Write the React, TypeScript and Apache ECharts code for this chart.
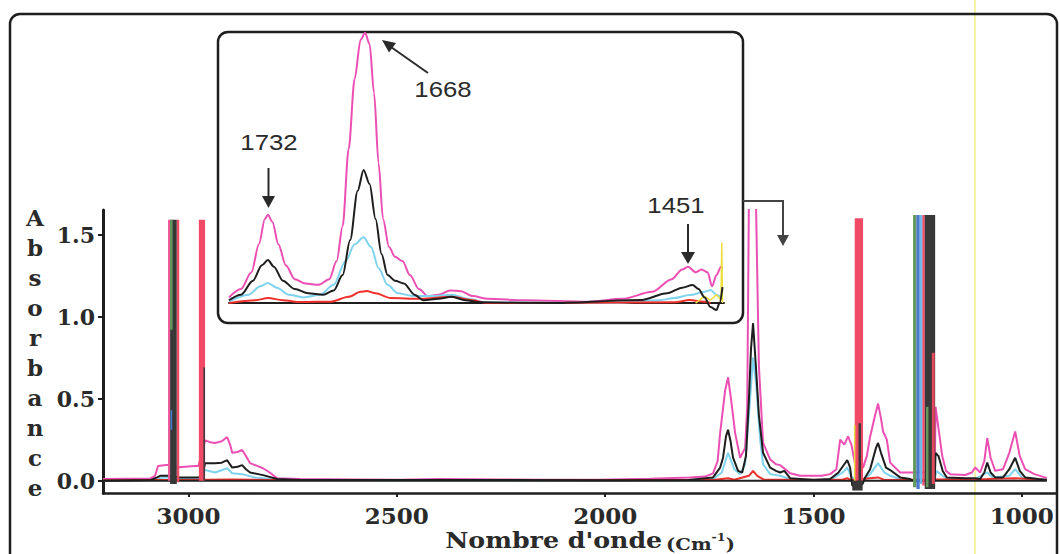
import React, { useEffect, useRef } from 'react';
import * as echarts from 'echarts';

// ---------- axis ticks ----------
const xTicks = [3000, 2500, 2000, 1500, 1000];
const yTicks = [0, 0.5, 1.0, 1.5];

// ---------- main spectra [wavenumber, absorbance] ----------
const pinkMain = [
  [3205, 0.01], [3150, 0.012], [3092, 0.012], [3080, 0.03], [3073, 0.09], [3054, 0.095], [3049, 0.095],
  [3030, 0.08], [3008, 0.085], [2984, 0.09], [2976, 0.09], [2960, 0.246], [2948, 0.235], [2936, 0.23],
  [2920, 0.24], [2907, 0.266], [2900, 0.22], [2895, 0.17], [2882, 0.175], [2871, 0.187], [2862, 0.15],
  [2852, 0.107], [2835, 0.09], [2821, 0.076], [2805, 0.05], [2787, 0.015], [2732, 0.01], [2600, 0.008],
  [2492, 0.006], [2400, 0.01], [2253, 0.008], [2150, 0.006], [2013, 0.006], [1893, 0.012], [1797, 0.02],
  [1760, 0.025], [1741, 0.045], [1730, 0.12], [1724, 0.29], [1712, 0.55], [1705, 0.63], [1698, 0.5],
  [1688, 0.29], [1676, 0.14], [1664, 0.2], [1659, 0.45], [1655, 1.7], [1647, 1.95], [1638, 1.7],
  [1631, 0.7], [1621, 0.23], [1604, 0.13], [1590, 0.1], [1580, 0.095], [1556, 0.045], [1532, 0.03],
  [1480, 0.03], [1460, 0.04], [1445, 0.07], [1436, 0.25], [1426, 0.22], [1417, 0.27], [1409, 0.22],
  [1400, 0.1], [1381, 0.08], [1372, 0.15], [1364, 0.27], [1352, 0.4], [1345, 0.47], [1338, 0.38],
  [1333, 0.3], [1324, 0.25], [1316, 0.11], [1292, 0.05], [1268, 0.05], [1261, 0.05], [1209, 0.05],
  [1207, 0.45], [1199, 0.3], [1191, 0.15], [1182, 0.06], [1172, 0.04], [1136, 0.035], [1120, 0.05],
  [1112, 0.08], [1100, 0.05], [1090, 0.12], [1083, 0.26], [1075, 0.14], [1064, 0.06], [1045, 0.07],
  [1030, 0.17], [1016, 0.3], [1005, 0.15], [992, 0.07], [970, 0.04], [945, 0.02], [940, 0.015],
];

const blackMain = [
  [3205, 0], [3090, 0.004], [3075, 0.02], [3068, 0.03], [3049, 0.03], [3023, 0.02], [2976, 0.02],
  [2966, 0.03], [2960, 0.107], [2936, 0.107], [2920, 0.11], [2907, 0.125], [2895, 0.08], [2882, 0.085],
  [2871, 0.095], [2862, 0.07], [2852, 0.05], [2821, 0.034], [2787, 0.01], [2732, 0.004], [2400, 0.004],
  [2000, 0.003], [1800, 0.005], [1741, 0.02], [1724, 0.08], [1717, 0.14], [1710, 0.27], [1705, 0.31],
  [1699, 0.24], [1693, 0.14], [1681, 0.06], [1671, 0.05], [1662, 0.15], [1655, 0.49], [1650, 0.8],
  [1645, 0.96], [1638, 0.69], [1631, 0.4], [1621, 0.17], [1604, 0.08], [1590, 0.06], [1580, 0.05],
  [1570, 0.06], [1556, 0.015], [1500, 0.005], [1460, 0.01], [1440, 0.05], [1426, 0.1], [1419, 0.125],
  [1412, 0.08], [1407, -0.03], [1382, -0.02], [1376, 0.02], [1364, 0.07], [1350, 0.2], [1345, 0.23],
  [1338, 0.17], [1326, 0.08], [1316, 0.065], [1292, 0.02], [1268, 0.01], [1261, 0.0], [1209, 0.0],
  [1207, 0.17], [1200, 0.15], [1190, 0.06], [1180, 0.02], [1136, 0.015], [1112, 0.015], [1100, 0.01],
  [1090, 0.05], [1083, 0.11], [1075, 0.05], [1064, 0.02], [1045, 0.02], [1030, 0.07], [1016, 0.14],
  [1005, 0.06], [992, 0.02], [960, 0.01], [940, 0.005],
];

const cyanMain = [
  [3205, 0], [3080, 0.005], [3060, 0.02], [3049, 0.02], [3023, 0.01], [2976, 0.01], [2960, 0.065],
  [2936, 0.05], [2907, 0.076], [2895, 0.045], [2871, 0.04], [2840, 0.02], [2821, 0.015], [2787, 0.005],
  [2500, 0.003], [1760, 0.003], [1741, 0.01], [1720, 0.05], [1705, 0.17], [1690, 0.07], [1676, 0.04],
  [1664, 0.1], [1655, 0.4], [1645, 0.75], [1638, 0.6], [1628, 0.25], [1621, 0.1], [1604, 0.04],
  [1580, 0.03], [1556, 0.01], [1460, 0.005], [1430, 0.05], [1419, 0.08], [1410, 0.03], [1400, 0],
  [1381, 0], [1364, 0.04], [1345, 0.107], [1330, 0.05], [1316, 0.03], [1292, 0.01], [1262, 0.005],
  [1209, 0.005], [1205, 0.06], [1190, 0.03], [1180, 0.01], [1112, 0.01], [1083, 0.05], [1070, 0.02],
  [1030, 0.03], [1016, 0.07], [1000, 0.02], [940, 0.005],
];

const redMain = [
  [3205, 0.003], [2960, 0.006], [2900, 0.008], [2800, 0.004], [1741, 0.004], [1705, 0.015], [1690, 0.006],
  [1655, 0.03], [1645, 0.06], [1635, 0.03], [1620, 0.008], [1430, 0.006], [1419, 0.015], [1410, 0.004],
  [1345, 0.02], [1330, 0.005], [1083, 0.01], [1016, 0.015], [940, 0.004],
];

const baselineMain = [[3205, 0], [940, 0]];

// ---------- saturated (off-scale) bands: [from, to, top, bottom] ----------
const satPink = [[3049, 3044, 1.59, 0.0]];
const satRed = [[3028, 3022, 1.59, -0.01], [2975, 2960, 1.59, 0.0], [1401, 1381, 1.6, 0.0], [1239, 1233, 1.62, -0.03]];
const satDark = [[3044, 3028, 1.59, -0.02], [2964, 2961, 0.69, 0.0], [1407, 1382, 0.0, -0.06], [1392, 1386, 0.35, -0.05], [1233, 1208, 1.62, -0.05]];
const satGreen = [[3044, 3038, 1.59, 0.92], [1261, 1253, 1.62, -0.04], [1230, 1224, 0.45, -0.04]];
const satBlue = [[3043, 3039, 0.43, 0.31], [1253, 1245, 1.62, -0.05]];
const satCyan = [[1245, 1239, 1.62, -0.02]];
const satRedInner = [[1216, 1209, 0.78, -0.02]];
const satYellow = [[1403, 1401.5, 0.34, 0.0]];

// ---------- inset spectra (1758-1427 cm-1) ----------
const pinkInset = [
  [1758, 0.04], [1750, 0.1], [1743, 0.22], [1738, 0.42], [1734, 0.6], [1732, 0.63], [1729, 0.58],
  [1725, 0.42], [1720, 0.27], [1714, 0.17], [1707, 0.14], [1698, 0.13], [1691, 0.17], [1686, 0.3],
  [1682, 0.55], [1678, 1.1], [1674, 1.6], [1670, 1.88], [1667, 1.93], [1664, 1.85], [1661, 1.5],
  [1658, 1.0], [1655, 0.6], [1651, 0.4], [1647, 0.33], [1642, 0.3], [1637, 0.2], [1631, 0.1],
  [1625, 0.05], [1618, 0.06], [1610, 0.09], [1603, 0.085], [1595, 0.05], [1585, 0.03], [1560, 0.02],
  [1517, 0.01], [1495, 0.03], [1475, 0.08], [1462, 0.17], [1455, 0.24], [1451, 0.26], [1446, 0.22],
  [1442, 0.24], [1438, 0.22], [1435, 0.12], [1432, 0.2], [1429, 0.26], [1428, 0.25],
];
const blackInset = [
  [1758, 0.02], [1750, 0.06], [1742, 0.16], [1736, 0.27], [1732, 0.307], [1728, 0.26], [1722, 0.16],
  [1714, 0.1], [1705, 0.07], [1695, 0.06], [1688, 0.09], [1682, 0.2], [1677, 0.45], [1672, 0.8],
  [1668, 0.95], [1664, 0.85], [1660, 0.6], [1656, 0.35], [1652, 0.2], [1647, 0.16], [1641, 0.14],
  [1634, 0.06], [1628, 0.02], [1618, 0.03], [1609, 0.045], [1600, 0.02], [1590, 0.005], [1540, 0.0],
  [1483, 0.021], [1465, 0.07], [1455, 0.11], [1448, 0.129], [1444, 0.1], [1440, 0.04], [1436, -0.029],
  [1432, -0.05], [1430, 0.0], [1428, 0.114],
];
const cyanInset = [
  [1758, 0.01], [1745, 0.06], [1737, 0.12], [1732, 0.143], [1726, 0.11], [1718, 0.06], [1708, 0.04],
  [1697, 0.06], [1688, 0.13], [1680, 0.3], [1674, 0.42], [1668, 0.47], [1663, 0.4], [1658, 0.25],
  [1652, 0.13], [1645, 0.07], [1635, 0.05], [1620, 0.05], [1609, 0.06], [1598, 0.03], [1586, 0.005],
  [1500, 0.0], [1470, 0.02], [1460, 0.036], [1450, 0.057], [1440, 0.08], [1436, 0.093], [1432, 0.06],
  [1429, 0.04],
];
const redInset = [
  [1758, 0.0], [1740, 0.02], [1732, 0.036], [1722, 0.02], [1710, 0.007], [1690, 0.01], [1678, 0.045],
  [1670, 0.08], [1666, 0.086], [1660, 0.07], [1650, 0.036], [1630, 0.03], [1609, 0.045], [1595, 0.02],
  [1586, 0.0], [1460, 0.005], [1450, 0.021], [1440, 0.01], [1436, 0.0],
];
const yellowInset = [[1446, 0.0], [1440, 0.05], [1436, 0.02], [1432, 0.06], [1429, 0.02], [1428.5, 0.43], [1428, 0.0]];

const PINK = '#ec4fb4';
const BLACK = '#1e1e1e';
const CYAN = '#7fd3ee';
const RED = '#f0302c';

const lineSeries = (name: string, data: number[][], color: string, width: number, idx: number, smooth = 0) => ({
  type: 'line', name, data, xAxisIndex: idx, yAxisIndex: idx, z: 2,
  showSymbol: false, symbol: 'none', silent: true, smooth, smoothMonotone: smooth ? 'x' : undefined,
  lineStyle: { color, width }, itemStyle: { color },
});

const bandSeries = (name: string, data: number[][], color: string) => ({
  type: 'custom', name, data, xAxisIndex: 0, yAxisIndex: 0, silent: true, z: 4,
  encode: { x: [0, 1], y: [2, 3] },
  renderItem: (_p: any, api: any) => {
    const a = api.coord([api.value(0), api.value(2)]);
    const b = api.coord([api.value(1), api.value(3)]);
    return {
      type: 'rect',
      shape: {
        x: Math.min(a[0], b[0]), y: Math.min(a[1], b[1]),
        width: Math.max(1.5, Math.abs(b[0] - a[0])), height: Math.abs(b[1] - a[1]),
      },
      style: { fill: color },
    };
  },
});

const SERIF = '"DejaVu Serif", "Liberation Serif", serif';
const SANS = '"Liberation Sans", Arial, sans-serif';

export default function App() {
  const ref = useRef<HTMLDivElement>(null);
  useEffect(() => {
    if (!ref.current) return;
    const chart = echarts.init(ref.current, undefined, { renderer: 'svg' });
    const labelStyle = { color: '#2a2a2a', fontFamily: SERIF, fontWeight: 'bold' };
    const option: any = {
      animation: false,
      backgroundColor: '#ffffff',
      grid: [
        { left: 103, top: 210, width: 953, height: 283 },
        { left: 229, top: 32, width: 495, height: 288 },
      ],
      xAxis: [
        {
          type: 'value', gridIndex: 0, min: 918, max: 3205, inverse: true,
          axisLine: { onZero: false, lineStyle: { color: BLACK, width: 2.5 } },
          axisTick: { show: true, length: 4, customValues: xTicks, lineStyle: { color: BLACK, width: 2 } },
          axisLabel: { customValues: xTicks, margin: 11, fontSize: 23, ...labelStyle, formatter: (v: number) => String(v) },
          splitLine: { show: false },
        },
        {
          type: 'value', gridIndex: 1, min: 1427, max: 1758, inverse: true,
          axisLine: { onZero: true, lineStyle: { color: BLACK, width: 2 } },
          axisTick: { show: false }, axisLabel: { show: false }, splitLine: { show: false },
        },
      ],
      yAxis: [
        {
          type: 'value', gridIndex: 0, min: -0.075, max: 1.65,
          axisLine: { show: true, onZero: false, lineStyle: { color: BLACK, width: 3 } },
          axisTick: { show: true, length: 5, customValues: yTicks, lineStyle: { color: BLACK, width: 2 } },
          axisLabel: { customValues: yTicks, margin: 8, fontSize: 22, ...labelStyle, formatter: (v: number) => v.toFixed(1) },
          splitLine: { show: false },
        },
        {
          type: 'value', gridIndex: 1, min: -0.121, max: 1.936,
          axisLine: { show: false }, axisTick: { show: false }, axisLabel: { show: false }, splitLine: { show: false },
        },
      ],
      series: [
        lineSeries('pink', pinkMain, PINK, 2, 0),
        lineSeries('cyan', cyanMain, CYAN, 2, 0),
        lineSeries('red', redMain, RED, 2, 0),
        lineSeries('black', blackMain, BLACK, 2, 0),
        lineSeries('baseline', baselineMain, BLACK, 2, 0),
        bandSeries('satPink', satPink, '#ef5a9a'),
        bandSeries('satRed', satRed, '#f04a66'),
        bandSeries('satDark', satDark, '#383838'),
        bandSeries('satGreen', satGreen, '#64985c'),
        bandSeries('satBlue', satBlue, '#4a78cc'),
        bandSeries('satCyan', satCyan, '#6fb8e8'),
        bandSeries('satRedInner', satRedInner, '#e04a5a'),
        bandSeries('satYellow', satYellow, '#e8e040'),
        lineSeries('pinkInset', pinkInset, PINK, 2, 1, 0.3),
        lineSeries('cyanInset', cyanInset, CYAN, 2, 1, 0.3),
        lineSeries('redInset', redInset, RED, 2, 1, 0.3),
        lineSeries('yellowInset', yellowInset, '#ecdf3a', 1.5, 1),
        lineSeries('blackInset', blackInset, BLACK, 2, 1, 0.3),
      ],
      graphic: [
        { type: 'line', silent: true, shape: { x1: 975, y1: 0, x2: 975, y2: 554 }, style: { stroke: '#f6f1a6', lineWidth: 2 } },
        { type: 'rect', silent: true, shape: { x: 10, y: 14, width: 1047, height: 600, r: 10 }, style: { fill: 'none', stroke: BLACK, lineWidth: 2.5 } },
        { type: 'rect', silent: true, shape: { x: 218, y: 32, width: 525, height: 291, r: 10 }, style: { fill: 'none', stroke: BLACK, lineWidth: 2.5 } },
        { type: 'polyline', silent: true, shape: { points: [[743, 201], [783, 201], [783, 236]] }, style: { fill: 'none', stroke: '#444', lineWidth: 2 } },
        { type: 'polygon', silent: true, shape: { points: [[777, 235], [789, 235], [783, 246]] }, style: { fill: '#444' } },
        // annotation arrows
        { type: 'line', silent: true, shape: { x1: 268.5, y1: 168, x2: 268.5, y2: 197 }, style: { stroke: '#2a2a2a', lineWidth: 2 } },
        { type: 'polygon', silent: true, shape: { points: [[262, 196], [275, 196], [268.5, 208]] }, style: { fill: '#2a2a2a' } },
        { type: 'line', silent: true, shape: { x1: 428, y1: 73, x2: 391, y2: 47 }, style: { stroke: '#2a2a2a', lineWidth: 2 } },
        { type: 'polygon', silent: true, shape: { points: [[382, 40], [396, 43], [389, 52.5]] }, style: { fill: '#2a2a2a' } },
        { type: 'line', silent: true, shape: { x1: 688, y1: 224, x2: 688, y2: 254 }, style: { stroke: '#2a2a2a', lineWidth: 2 } },
        { type: 'polygon', silent: true, shape: { points: [[681, 252], [695, 252], [688, 264]] }, style: { fill: '#2a2a2a' } },
        // annotation labels
        { type: 'text', silent: true, x: 269, y: 142, scaleX: 1.12, style: { text: '1732', fontFamily: SANS, fontSize: 23, fill: '#2a2a2a', align: 'center', verticalAlign: 'middle' } },
        { type: 'text', silent: true, x: 443, y: 89, scaleX: 1.12, style: { text: '1668', fontFamily: SANS, fontSize: 23, fill: '#2a2a2a', align: 'center', verticalAlign: 'middle' } },
        { type: 'text', silent: true, x: 676, y: 205, scaleX: 1.12, style: { text: '1451', fontFamily: SANS, fontSize: 23, fill: '#2a2a2a', align: 'center', verticalAlign: 'middle' } },
        // y axis name (stacked letters)
        { type: 'text', silent: true, x: 35, y: 202, style: { text: 'A\nb\ns\no\nr\nb\na\nn\nc\ne', fontFamily: SERIF, fontWeight: 'bold', fontSize: 23, lineHeight: 30.1, fill: '#2a2a2a', align: 'center', verticalAlign: 'top' } },
        // x axis name
        {
          type: 'text', silent: true, x: 590, y: 542, scaleX: 1.15,
          style: {
            text: "{a|Nombre d'onde} {b|(Cm}{s|-1}{b|)}",
            fill: '#2a2a2a', align: 'center', verticalAlign: 'middle',
            rich: {
              a: { fontFamily: SERIF, fontWeight: 'bold', fontSize: 22, fill: '#2a2a2a', lineHeight: 20, verticalAlign: 'bottom' },
              b: { fontFamily: SERIF, fontWeight: 'bold', fontSize: 17, fill: '#2a2a2a', lineHeight: 20, verticalAlign: 'bottom' },
              s: { fontFamily: SERIF, fontWeight: 'bold', fontSize: 11, fill: '#2a2a2a', lineHeight: 20, verticalAlign: 'top' },
            },
          },
        },
      ],
    };
    chart.setOption(option);
    return () => chart.dispose();
  }, []);
  return <div ref={ref} style={{ position: 'fixed', left: 0, top: 0, width: 1060, height: 554, background: '#fff' }} />;
}
